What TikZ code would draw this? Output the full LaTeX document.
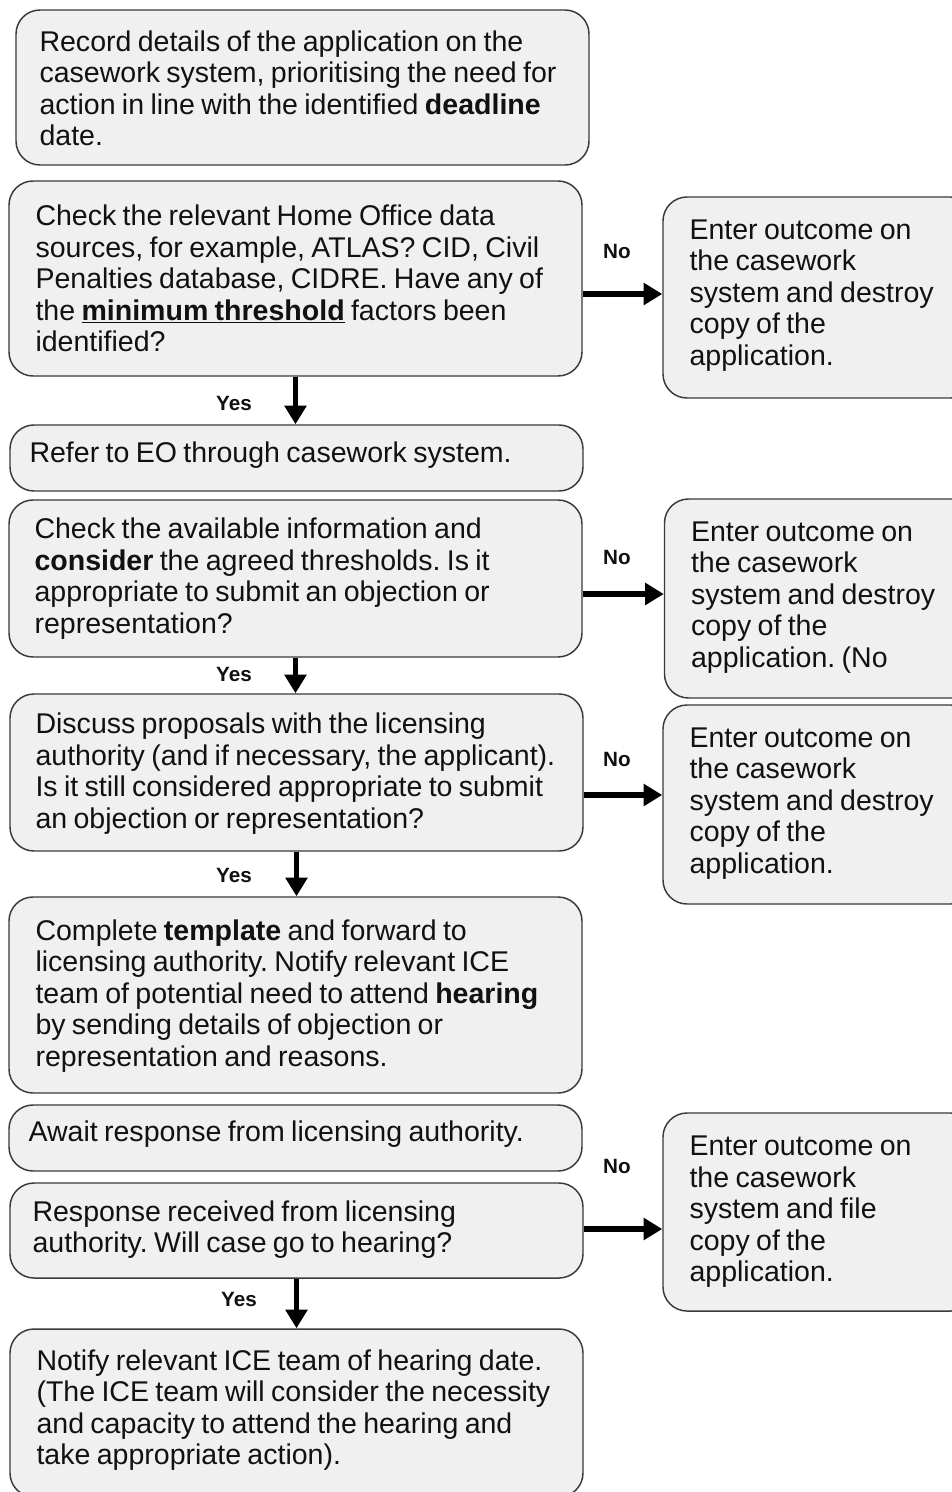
\documentclass[tikz,border=0pt]{standalone}
\usepackage{fontspec}
\setmainfont[WordSpace=0.8]{Liberation Sans}
\frenchspacing
\usetikzlibrary{arrows.meta,calc}
\definecolor{boxfill}{HTML}{F0F0F0}
\definecolor{boxline}{HTML}{3A3A3A}
\definecolor{txt}{HTML}{111111}
\begin{document}
\begin{tikzpicture}[x=0.75pt,y=-0.75pt,
 box/.style={draw=boxline, fill=boxfill, line width=1.1pt, rounded corners=18pt, inner sep=0pt, anchor=center},
 tx/.style={align=left, anchor=west, inner sep=0pt, font=\fontsize{21.4}{23.6}\selectfont, text=txt},
 lbl/.style={font=\fontsize{15.5}{17}\selectfont\bfseries, text=txt, inner sep=0pt},
 arr/.style={draw=black, line width=3.8pt, -{Triangle[length=14pt,width=16pt]}}
]
\useasboundingbox (0,0) rectangle (952,1492);
\fill[white] (0,0) rectangle (952,1492);
\clip (0,0) rectangle (952,1492);

% boxes (px sizes * 0.75 pt)
\node[box, minimum width=429.75pt, minimum height=116.25pt] (b1) at (302.5,87.5) {};
\node[box, minimum width=429.75pt, minimum height=146.25pt] (b2) at (295.5,278.5) {};
\node[box, minimum width=429.75pt, minimum height=49.5pt] (b3) at (296.5,458) {};
\node[box, minimum width=429.75pt, minimum height=117.75pt] (b4) at (295.5,578.5) {};
\node[box, minimum width=429.75pt, minimum height=117.75pt] (b5) at (296.5,772.5) {};
\node[box, minimum width=429.75pt, minimum height=147pt] (b6) at (295.5,995) {};
\node[box, minimum width=429.75pt, minimum height=49.5pt] (b7) at (295.5,1138) {};
\node[box, minimum width=429.75pt, minimum height=71.25pt] (b8) at (296.5,1230.5) {};
\node[box, minimum width=429.75pt, minimum height=126pt] (b9) at (296.5,1413) {};
\node[box, minimum width=234pt, minimum height=150.75pt] (rA) at (819,297.5) {};
\node[box, minimum width=234pt, minimum height=149.25pt] (rB) at (820.5,598.5) {};
\node[box, minimum width=234pt, minimum height=149.25pt] (rC) at (819,804.5) {};
\node[box, minimum width=234pt, minimum height=148.5pt] (rD) at (819,1212) {};

% texts
\node[tx] (t1) at ($(b1.west)+(24,1)$) {Record details of the application on the\\
casework system, prioritising the need for\\
action in line with the identified \textbf{deadline}\\
date.};

\node[tx] (t2) at ($(b2.west)+(27,0)$) {Check the relevant Home Office data\\
sources, for example, ATLAS? CID, Civil\\
Penalties database, CIDRE. Have any of\\
the \underline{\textbf{minimum threshold}} factors been\\
identified?};

\node[tx] (t3) at ($(b3.west)+(20,-3)$) {Refer to EO through casework system.};

\node[tx] (t4) at ($(b4.west)+(26,0)$) {Check the available information and\\
\textbf{consider} the agreed thresholds. Is it\\
appropriate to submit an objection or\\
representation?};

\node[tx] (t5) at ($(b5.west)+(26,1)$) {Discuss proposals with the licensing\\
authority (and if necessary, the applicant).\\
Is it still considered appropriate to submit\\
an objection or representation?};

\node[tx] (t6) at ($(b6.west)+(27,1)$) {Complete \textbf{template} and forward to\\
licensing authority. Notify relevant ICE\\
team of potential need to attend \textbf{hearing}\\
by sending details of objection or\\
representation and reasons.};

\node[tx] (t7) at ($(b7.west)+(20,-4)$) {Await response from licensing authority.};

\node[tx] (t8) at ($(b8.west)+(23,-1)$) {Response received from licensing\\
authority. Will case go to hearing?};

\node[tx] (t9) at ($(b9.west)+(27,-3)$) {Notify relevant ICE team of hearing date.\\
(The ICE team will consider the necessity\\
and capacity to attend the hearing and\\
take appropriate action).};

\node[tx] (tA) at ($(rA.west)+(27,-2)$) {Enter outcome on\\the casework\\system and destroy\\copy of the\\application.};
\node[tx] (tB) at ($(rB.west)+(27,-1)$) {Enter outcome on\\the casework\\system and destroy\\copy of the\\application. (No};
\node[tx] (tC) at ($(rC.west)+(27,-1)$) {Enter outcome on\\the casework\\system and destroy\\copy of the\\application.};
\node[tx] (tD) at ($(rD.west)+(27,0)$) {Enter outcome on\\the casework\\system and file\\copy of the\\application.};

% vertical Yes arrows
\draw[arr] (b2.south) -- (b2.south |- b3.north);
\draw[arr] (b4.south) -- (b4.south |- b5.north);
\draw[arr] (b5.south) -- (b5.south |- b6.north);
\draw[arr] (b8.south) -- (b8.south |- b9.north);

\node[lbl] (y1) at (234,403) {Yes};
\node[lbl] (y2) at (234,674) {Yes};
\node[lbl] (y3) at (234,875) {Yes};
\node[lbl] (y4) at (239,1299) {Yes};

% horizontal No arrows
\coordinate (hA) at (0,294);
\coordinate (hB) at (0,594);
\coordinate (hC) at (0,795);
\coordinate (hD) at (0,1229);
\draw[arr] (b2.east |- hA) -- (rA.west |- hA);
\draw[arr] (b4.east |- hB) -- (rB.west |- hB);
\draw[arr] (b5.east |- hC) -- (rC.west |- hC);
\draw[arr] (b8.east |- hD) -- (rD.west |- hD);

\node[lbl] (n1) at (617,251) {No};
\node[lbl] (n2) at (617,557) {No};
\node[lbl] (n3) at (617,759) {No};
\node[lbl] (n4) at (617,1166) {No};
\end{tikzpicture}
\end{document}
